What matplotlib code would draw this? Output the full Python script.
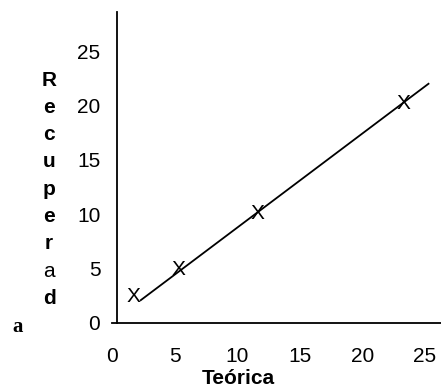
import matplotlib.pyplot as plt

# Data
teorica = [1.7, 5.3, 11.6, 23.3]
recuperada = [2.4, 4.9, 10.1, 20.2]
fit_x = [2.3, 25.3]
fit_y = [2.1, 22.0]
ticks = [0, 5, 10, 15, 20, 25]
ylabel_letters = ["R", "e", "c", "u", "p", "e", "r", "a", "d"]
ylabel_bold = [True, True, True, True, True, True, True, False, True]

plt.rcParams['font.family'] = ['Liberation Sans', 'DejaVu Sans']

fig = plt.figure(figsize=(4.41, 3.9), dpi=100)
ax = fig.add_axes([112 / 441, 67 / 390, 329 / 441, 311 / 390])

ax.plot(fit_x, fit_y, color='black', linewidth=1.3)
for x, y in zip(teorica, recuperada):
    ax.text(x, y, 'X', ha='center', va='center', fontsize=15)

ax.set_xlim(0, 26.3)
ax.set_ylim(0, 28.6)
ax.set_xticks(ticks)
ax.set_yticks(ticks)
ax.tick_params(length=0, labelsize=15)
ax.tick_params(axis='x', pad=17)
ax.tick_params(axis='y', pad=12)
ax.spines['top'].set_visible(False)
ax.spines['right'].set_visible(False)
ax.spines['left'].set_position(('data', 0.4))
ax.spines['left'].set_linewidth(1.3)
ax.spines['bottom'].set_linewidth(1.3)

ax.set_xlabel('Teórica', fontsize=15, fontweight='bold')
ax.xaxis.set_label_coords(126 / 329, -46 / 311)

# stacked vertical y label
for i, (ch, b) in enumerate(zip(ylabel_letters, ylabel_bold)):
    fig.text(49 / 441, 1 - (80 + 27.3 * i) / 390, ch, fontsize=15,
             fontweight='bold' if b else 'normal', ha='center', va='center')
fig.text(18 / 441, 1 - 327 / 390, 'a', fontsize=15, fontweight='bold',
         family='Liberation Serif', ha='center', va='center')

plt.savefig('out.png', dpi=100)
